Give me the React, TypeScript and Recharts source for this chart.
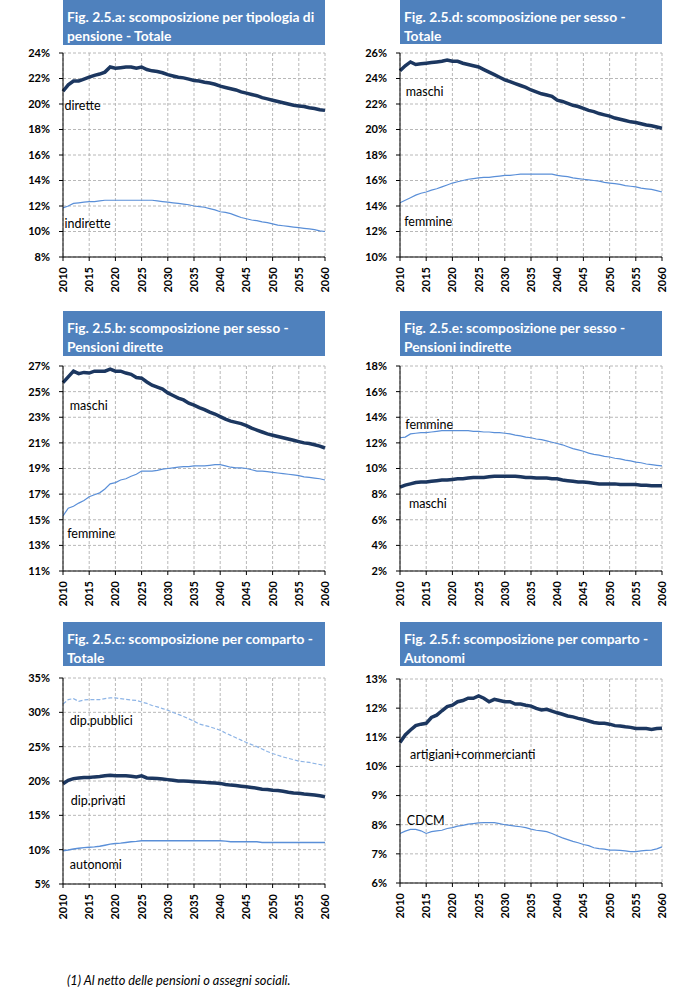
import React from "react";
import { LineChart, Line, XAxis, YAxis, CartesianGrid, ReferenceDot } from "recharts";

const years = Array.from({ length: 51 }, (_, i) => 2010 + i);
const yearTicks = [2010, 2015, 2020, 2025, 2030, 2035, 2040, 2045, 2050, 2055, 2060];

// Fig. 2.5.a
const aDirette = [21.0, 21.5, 21.8, 21.8, 21.95, 22.1, 22.25, 22.35, 22.5, 22.9, 22.8, 22.85, 22.9, 22.9, 22.8, 22.9, 22.7, 22.6, 22.55, 22.45, 22.3, 22.2, 22.1, 22.05, 21.95, 21.85, 21.8, 21.7, 21.65, 21.55, 21.4, 21.3, 21.2, 21.1, 20.95, 20.85, 20.75, 20.65, 20.5, 20.4, 20.3, 20.2, 20.1, 20.0, 19.9, 19.85, 19.8, 19.7, 19.65, 19.55, 19.5];
const aIndirette = [11.85, 12.0, 12.2, 12.25, 12.3, 12.35, 12.35, 12.4, 12.45, 12.45, 12.45, 12.45, 12.45, 12.45, 12.45, 12.45, 12.45, 12.45, 12.4, 12.35, 12.3, 12.25, 12.2, 12.15, 12.1, 12.0, 11.95, 11.9, 11.8, 11.7, 11.55, 11.5, 11.4, 11.25, 11.1, 11.0, 10.9, 10.85, 10.75, 10.7, 10.6, 10.5, 10.45, 10.4, 10.35, 10.3, 10.25, 10.2, 10.15, 10.05, 10.0];
const aTicks = [8, 10, 12, 14, 16, 18, 20, 22, 24];

// Fig. 2.5.d
const dMaschi = [24.6, 25.0, 25.3, 25.1, 25.15, 25.2, 25.25, 25.3, 25.35, 25.45, 25.35, 25.35, 25.2, 25.1, 25.0, 24.9, 24.7, 24.5, 24.3, 24.1, 23.9, 23.75, 23.6, 23.45, 23.3, 23.1, 22.95, 22.8, 22.7, 22.6, 22.3, 22.2, 22.05, 21.9, 21.8, 21.65, 21.5, 21.4, 21.25, 21.15, 21.05, 20.9, 20.8, 20.7, 20.6, 20.55, 20.45, 20.35, 20.3, 20.2, 20.1];
const dFemmine = [14.25, 14.45, 14.65, 14.85, 15.0, 15.1, 15.25, 15.35, 15.5, 15.65, 15.8, 15.9, 16.0, 16.1, 16.15, 16.2, 16.25, 16.25, 16.3, 16.35, 16.4, 16.4, 16.45, 16.5, 16.5, 16.5, 16.5, 16.5, 16.5, 16.5, 16.4, 16.35, 16.3, 16.2, 16.15, 16.1, 16.05, 16.0, 15.95, 15.85, 15.8, 15.75, 15.7, 15.6, 15.55, 15.5, 15.4, 15.35, 15.3, 15.2, 15.1];
const dTicks = [10, 12, 14, 16, 18, 20, 22, 24, 26];

// Fig. 2.5.b
const bMaschi = [25.7, 26.15, 26.6, 26.4, 26.5, 26.45, 26.6, 26.6, 26.6, 26.75, 26.6, 26.6, 26.45, 26.35, 26.1, 26.05, 25.75, 25.5, 25.35, 25.2, 24.9, 24.7, 24.5, 24.35, 24.1, 23.95, 23.75, 23.6, 23.4, 23.25, 23.05, 22.85, 22.7, 22.6, 22.5, 22.35, 22.15, 22.0, 21.85, 21.7, 21.6, 21.5, 21.4, 21.3, 21.2, 21.1, 21.0, 20.95, 20.85, 20.75, 20.6];
const bFemmine = [15.3, 15.9, 16.05, 16.3, 16.5, 16.8, 16.95, 17.1, 17.4, 17.8, 17.9, 18.1, 18.2, 18.4, 18.55, 18.8, 18.8, 18.8, 18.85, 18.95, 19.0, 19.05, 19.1, 19.15, 19.15, 19.2, 19.2, 19.2, 19.25, 19.3, 19.3, 19.2, 19.1, 19.05, 19.05, 19.0, 18.9, 18.8, 18.8, 18.75, 18.7, 18.65, 18.6, 18.55, 18.5, 18.45, 18.35, 18.3, 18.25, 18.2, 18.1];
const bTicks = [11, 13, 15, 17, 19, 21, 23, 25, 27];

// Fig. 2.5.e
const eFemmine = [12.4, 12.45, 12.7, 12.75, 12.8, 12.8, 12.85, 12.9, 12.95, 12.95, 12.95, 12.95, 12.95, 12.95, 12.9, 12.9, 12.85, 12.85, 12.8, 12.8, 12.75, 12.7, 12.6, 12.55, 12.45, 12.4, 12.3, 12.25, 12.15, 12.05, 11.95, 11.85, 11.7, 11.55, 11.45, 11.35, 11.2, 11.1, 11.05, 10.95, 10.9, 10.8, 10.75, 10.65, 10.6, 10.5, 10.45, 10.35, 10.3, 10.25, 10.2];
const eMaschi = [8.55, 8.7, 8.8, 8.9, 8.95, 8.95, 9.0, 9.05, 9.1, 9.1, 9.15, 9.2, 9.2, 9.25, 9.3, 9.3, 9.3, 9.35, 9.4, 9.4, 9.4, 9.4, 9.4, 9.35, 9.3, 9.3, 9.25, 9.25, 9.25, 9.2, 9.2, 9.1, 9.05, 9.0, 8.95, 8.95, 8.9, 8.85, 8.8, 8.8, 8.8, 8.8, 8.75, 8.75, 8.75, 8.75, 8.7, 8.7, 8.65, 8.65, 8.65];
const eTicks = [2, 4, 6, 8, 10, 12, 14, 16, 18];

// Fig. 2.5.c
const cPubblici = [31.2, 31.85, 32.0, 31.6, 31.8, 31.85, 31.85, 31.85, 32.0, 32.1, 32.1, 32.0, 31.9, 31.8, 31.75, 31.5, 31.3, 31.0, 30.8, 30.55, 30.3, 30.0, 29.7, 29.4, 29.05, 28.7, 28.3, 28.1, 27.9, 27.65, 27.4, 27.0, 26.65, 26.3, 25.95, 25.6, 25.3, 25.0, 24.65, 24.3, 24.0, 23.75, 23.5, 23.3, 23.1, 22.9, 22.8, 22.7, 22.55, 22.4, 22.2];
const cPrivati = [19.6, 20.1, 20.35, 20.45, 20.5, 20.5, 20.6, 20.65, 20.75, 20.85, 20.75, 20.75, 20.75, 20.7, 20.6, 20.75, 20.45, 20.4, 20.35, 20.3, 20.2, 20.1, 20.0, 20.0, 19.95, 19.9, 19.85, 19.8, 19.75, 19.7, 19.65, 19.5, 19.4, 19.35, 19.25, 19.15, 19.05, 18.95, 18.8, 18.75, 18.65, 18.6, 18.5, 18.35, 18.25, 18.2, 18.1, 18.05, 17.95, 17.85, 17.7];
const cAutonomi = [9.85, 9.95, 10.1, 10.2, 10.3, 10.35, 10.4, 10.5, 10.65, 10.8, 10.9, 10.95, 11.05, 11.15, 11.2, 11.3, 11.3, 11.3, 11.3, 11.3, 11.3, 11.3, 11.3, 11.3, 11.3, 11.3, 11.3, 11.3, 11.3, 11.3, 11.3, 11.25, 11.15, 11.15, 11.15, 11.15, 11.15, 11.15, 11.05, 11.05, 11.05, 11.05, 11.05, 11.05, 11.05, 11.05, 11.05, 11.05, 11.05, 11.05, 11.05];
const cTicks = [5, 10, 15, 20, 25, 30, 35];

// Fig. 2.5.f
const fArtigiani = [10.82, 11.08, 11.25, 11.4, 11.45, 11.48, 11.68, 11.76, 11.91, 12.05, 12.1, 12.22, 12.26, 12.34, 12.34, 12.42, 12.34, 12.22, 12.3, 12.26, 12.22, 12.22, 12.14, 12.14, 12.1, 12.07, 11.99, 11.94, 11.96, 11.9, 11.84, 11.79, 11.73, 11.7, 11.65, 11.61, 11.56, 11.51, 11.48, 11.48, 11.45, 11.4, 11.39, 11.36, 11.34, 11.3, 11.3, 11.3, 11.27, 11.3, 11.31];
const fCdcm = [7.7, 7.78, 7.84, 7.84, 7.79, 7.7, 7.76, 7.79, 7.81, 7.87, 7.9, 7.95, 7.98, 8.02, 8.04, 8.06, 8.07, 8.07, 8.07, 8.04, 8.0, 7.98, 7.95, 7.93, 7.9, 7.85, 7.81, 7.79, 7.76, 7.7, 7.62, 7.55, 7.49, 7.43, 7.38, 7.32, 7.28, 7.21, 7.18, 7.16, 7.13, 7.13, 7.12, 7.1, 7.08, 7.08, 7.1, 7.12, 7.13, 7.17, 7.24];
const fTicks = [6, 7, 8, 9, 10, 11, 12, 13];

const FONT = "Lato, 'Open Sans', sans-serif";
const DARK = "#1c3760";
const LIGHT = "#5a8fd8";
const PALE = "#8db4e6";
const HEAD = "#4f81bd";

type SeriesDef = { values: number[]; color: string; width: number; dash?: string };
type LabelDef = { text: string; x: number; y: number };

function YearTick(props: any) {
  const { x, y, payload } = props;
  const yy = y + 4;
  return (
    <text x={x} y={yy} transform={`rotate(-90, ${x}, ${yy})`} textAnchor="end" dy="0.36em"
      fontSize={11} fontWeight={700} fontFamily={FONT} fill="#000">
      {payload.value}
    </text>
  );
}

function Panel(props: {
  title: string[];
  headTop: number;
  headH: number;
  plotLeft: number;
  plotTop: number;
  plotW: number;
  plotH: number;
  ticks: number[];
  series: SeriesDef[];
  labels: LabelDef[];
}) {
  const { title, headTop, headH, plotLeft, plotTop, plotW, plotH, ticks, series, labels } = props;
  const rows = years.map((yr, i) => {
    const r: any = { year: yr };
    series.forEach((s, k) => (r["s" + k] = s.values[i]));
    return r;
  });
  const yw = 55;
  return (
    <>
      <div
        style={{
          position: "absolute", left: plotLeft, top: headTop, width: plotW, height: headH,
          background: HEAD, color: "#fff", fontFamily: FONT, fontWeight: 700, fontSize: 13.8,
          lineHeight: "19px", paddingTop: 7, boxSizing: "border-box", paddingLeft: 4, whiteSpace: "nowrap",
        }}
      >
        {title.map((t) => (
          <div key={t}>{t}</div>
        ))}
      </div>
      <div style={{ position: "absolute", left: plotLeft - yw, top: plotTop - 10 }}>
        <LineChart width={plotW + yw + 10} height={plotH + 50} data={rows}
          margin={{ top: 10, right: 10, left: 0, bottom: 0 }}>
          <CartesianGrid stroke="#b8b8b8" strokeDasharray="3 2" />
          <XAxis dataKey="year" type="number" domain={[2010, 2060]} ticks={yearTicks}
            interval={0} height={40} tickSize={4} stroke="#000" tick={<YearTick />} />
          <YAxis type="number" domain={[ticks[0], ticks[ticks.length - 1]]} ticks={ticks}
            interval={0} width={yw} tickSize={4} tickMargin={9} stroke="#000"
            tickFormatter={(v: number) => `${v}%`}
            tick={{ fontSize: 11, fontWeight: 700, fontFamily: FONT, fill: "#000" }} />
          {series.map((s, k) => (
            <Line key={k} dataKey={"s" + k} type="linear" stroke={s.color} strokeWidth={s.width}
              strokeDasharray={s.dash} dot={false} isAnimationActive={false} />
          ))}
          {labels.map((l) => (
            <ReferenceDot key={l.text} x={l.x} y={l.y} r={0} fill="none" stroke="none"
              label={{ value: l.text, position: "right", offset: 0, fill: "#000", fontSize: 12.5, fontFamily: FONT }} />
          ))}
        </LineChart>
      </div>
    </>
  );
}

export default function App() {
  return (
    <div style={{ position: "absolute", left: 0, top: 0, width: 686, height: 987, background: "#fff" }}>
      <Panel title={["Fig. 2.5.a: scomposizione per tipologia di", "pensione - Totale"]}
        headTop={0} headH={45} plotLeft={63} plotTop={53} plotW={262} plotH={204} ticks={aTicks}
        series={[
          { values: aDirette, color: DARK, width: 3.5 },
          { values: aIndirette, color: LIGHT, width: 1.2 },
        ]}
        labels={[
          { text: "dirette", x: 2010.3, y: 19.85 },
          { text: "indirette", x: 2010.3, y: 10.6 },
        ]} />
      <Panel title={["Fig. 2.5.d: scomposizione per sesso -", "Totale"]}
        headTop={0} headH={44} plotLeft={400} plotTop={53} plotW={262} plotH={204} ticks={dTicks}
        series={[
          { values: dMaschi, color: DARK, width: 3.5 },
          { values: dFemmine, color: LIGHT, width: 1.2 },
        ]}
        labels={[
          { text: "maschi", x: 2011.1, y: 23.0 },
          { text: "femmine", x: 2010.8, y: 12.8 },
        ]} />
      <Panel title={["Fig. 2.5.b: scomposizione per sesso -", "Pensioni dirette"]}
        headTop={311} headH={45} plotLeft={63} plotTop={366} plotW={262} plotH={205} ticks={bTicks}
        series={[
          { values: bMaschi, color: DARK, width: 3.5 },
          { values: bFemmine, color: LIGHT, width: 1.2 },
        ]}
        labels={[
          { text: "maschi", x: 2011.3, y: 23.95 },
          { text: "femmine", x: 2010.8, y: 13.95 },
        ]} />
      <Panel title={["Fig. 2.5.e: scomposizione per sesso -", "Pensioni indirette"]}
        headTop={311} headH={45} plotLeft={400} plotTop={366} plotW={262} plotH={205} ticks={eTicks}
        series={[
          { values: eFemmine, color: LIGHT, width: 1.2 },
          { values: eMaschi, color: DARK, width: 3.5 },
        ]}
        labels={[
          { text: "femmine", x: 2011.0, y: 13.45 },
          { text: "maschi", x: 2011.7, y: 7.3 },
        ]} />
      <Panel title={["Fig. 2.5.c: scomposizione per comparto -", "Totale"]}
        headTop={622} headH={44} plotLeft={63} plotTop={678} plotW={262} plotH={206} ticks={cTicks}
        series={[
          { values: cPubblici, color: PALE, width: 1.2, dash: "4 2" },
          { values: cPrivati, color: DARK, width: 3.5 },
          { values: cAutonomi, color: LIGHT, width: 1.4 },
        ]}
        labels={[
          { text: "dip.pubblici", x: 2011.3, y: 28.75 },
          { text: "dip.privati", x: 2011.5, y: 17.1 },
          { text: "autonomi", x: 2011.3, y: 7.8 },
        ]} />
      <Panel title={["Fig. 2.5.f: scomposizione per comparto -", "Autonomi"]}
        headTop={622} headH={44} plotLeft={400} plotTop={679} plotW={262} plotH={204} ticks={fTicks}
        series={[
          { values: fArtigiani, color: DARK, width: 3.5 },
          { values: fCdcm, color: LIGHT, width: 1.2 },
        ]}
        labels={[
          { text: "artigiani+commercianti", x: 2011.9, y: 10.42 },
          { text: "CDCM", x: 2011.3, y: 8.15 },
        ]} />
      <div style={{ position: "absolute", left: 67, top: 972, fontFamily: FONT, fontStyle: "italic", fontSize: 12.8, color: "#000" }}>
        (1) Al netto delle pensioni o assegni sociali.
      </div>
    </div>
  );
}
